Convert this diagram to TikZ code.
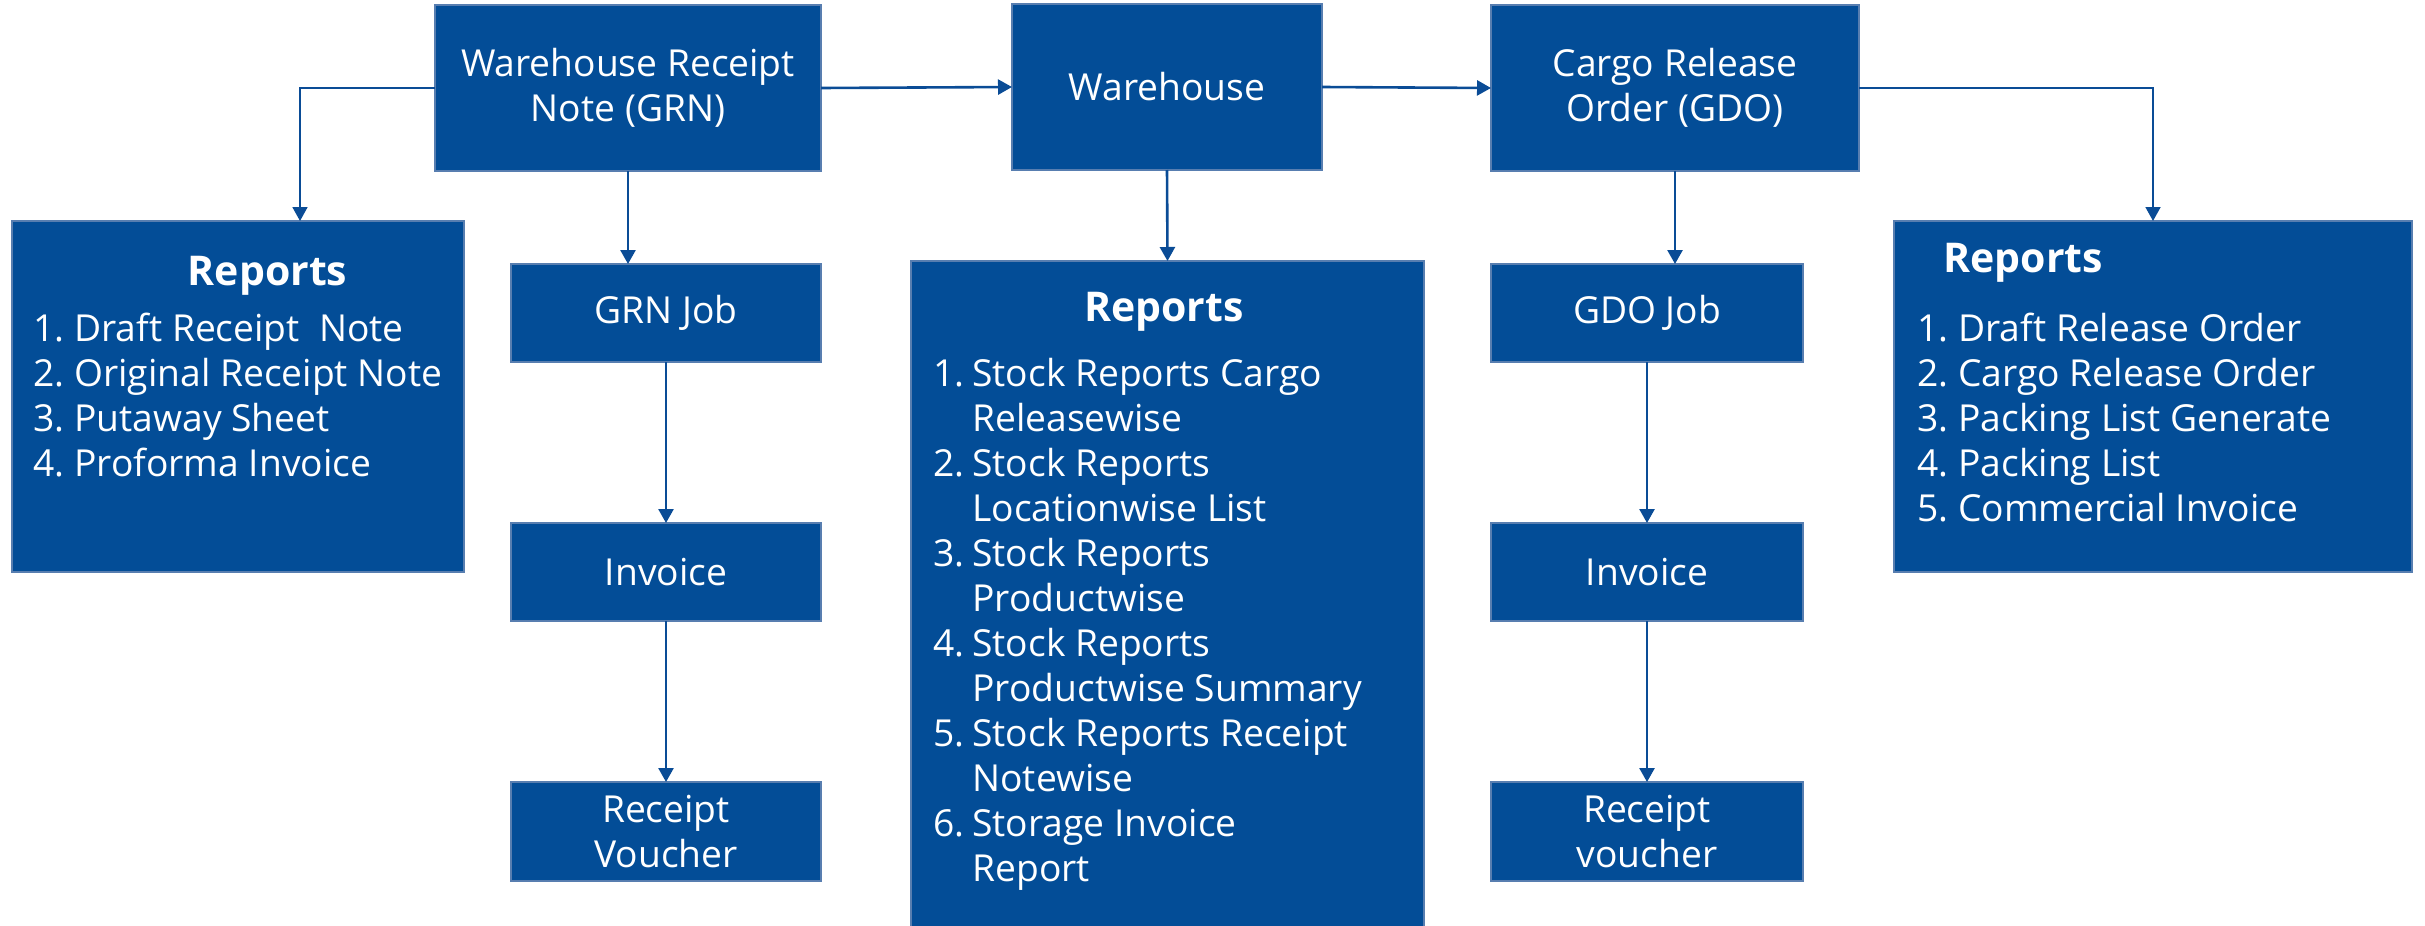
\documentclass[tikz,border=0pt]{standalone}
\usepackage{fontspec}
\setmainfont{Open Sans}
\usetikzlibrary{arrows.meta}
\definecolor{boxblue}{RGB}{3,77,151}
\definecolor{edgeblue}{RGB}{88,126,176}
\definecolor{lineblue}{RGB}{10,76,150}
\begin{document}
\begin{tikzpicture}[x=0.5pt,y=-0.5pt,
  box/.style={rectangle, fill=boxblue, draw=edgeblue, line width=0.8pt, inner sep=0pt, outer sep=0pt,
    text=white, align=center, font=\fontsize{18.6}{22.5}\selectfont},
  arr/.style={draw=lineblue, line width=1.3pt, -{Triangle[width=7.5pt,length=7pt]}},
  thinarr/.style={draw=lineblue, line width=0.9pt, -{Triangle[width=7.5pt,length=7pt]}},
  txt/.style={anchor=base west, inner sep=0pt, text=white, font=\fontsize{18.6}{22.5}\selectfont},
  head/.style={inner sep=0pt, text=white, font=\fontsize{20.5}{24}\selectfont\bfseries}]
\useasboundingbox (0,0) rectangle (2425,926);

% top row
\node[box, minimum width=193pt, minimum height=83pt] (grn) at (628,88) {Warehouse Receipt\\Note (GRN)};
\node[box, minimum width=155pt, minimum height=83pt] (wh) at (1167,87) {Warehouse};
\node[box, minimum width=184pt, minimum height=83pt] (cargo) at (1675,88) {Cargo Release\\Order (GDO)};

% report boxes
\node[box, minimum width=226pt, minimum height=175.5pt] (repL) at (238,396.5) {};
\node[box, minimum width=256.5pt, minimum height=342.5pt] (repM) at (1167.5,603.5) {};
\node[box, minimum width=259pt, minimum height=175.5pt] (repR) at (2153,396.5) {};

% left column
\node[box, minimum width=155pt, minimum height=49pt] (grnjob) at (666,313) {GRN Job};
\node[box, minimum width=155pt, minimum height=49pt] (invL) at (666,572) {Invoice};
\node[box, minimum width=155pt, minimum height=49.5pt] (rvL) at (666,831.5) {Receipt\\Voucher};

% right column
\node[box, minimum width=156pt, minimum height=49pt] (gdojob) at (1647,313) {GDO Job};
\node[box, minimum width=156pt, minimum height=49pt] (invR) at (1647,572) {Invoice};
\node[box, minimum width=156pt, minimum height=49.5pt] (rvR) at (1647,831.5) {Receipt\\voucher};

% report texts
\node[head, anchor=base] (hL) at (267.5,285) {Reports};
\foreach \n/\t [count=\i] in {1./Draft Receipt~~Note, 2./Original Receipt Note, 3./Putaway Sheet, 4./Proforma Invoice}
  {\node[txt] (lrn\i) at (33,{341.7+45*(\i-1)}) {\n};
   \node[txt] (lr\i) at (74,{341.7+45*(\i-1)}) {\t};}

\node[head, anchor=base] (hM) at (1164,321) {Reports};
\foreach \n/\t [count=\i] in {1./Stock Reports Cargo, /Releasewise, 2./Stock Reports, /Locationwise List,
  3./Stock Reports, /Productwise, 4./Stock Reports, /Productwise Summary,
  5./Stock Reports Receipt, /Notewise, 6./Storage Invoice, /Report}
  {\node[txt] (mrn\i) at (933,{386+45*(\i-1)}) {\n};
   \node[txt] (mr\i) at (972,{386+45*(\i-1)}) {\t};}

\node[head, anchor=base west] (hR) at (1943,272) {Reports};
\foreach \n/\t [count=\i] in {1./Draft Release Order, 2./Cargo Release Order, 3./Packing List Generate, 4./Packing List, 5./Commercial Invoice}
  {\node[txt] (rrn\i) at (1917,{341.7+45*(\i-1)}) {\n};
   \node[txt] (rr\i) at (1958,{341.7+45*(\i-1)}) {\t};}

% connectors
\coordinate (cl) at (300,88);
\draw[thinarr] (grn.west) -| (cl |- repL.north);
\draw[arr] (grn.east) -- (wh.west);
\draw[arr] (wh.east) -- (cargo.west);
\draw[thinarr] (cargo.east) -| (repR.north);
\draw[arr] (grn.south) -- (grn.south |- grnjob.north);
\draw[arr] (grnjob.south) -- (invL.north);
\draw[arr] (invL.south) -- (rvL.north);
\draw[arr] (wh.south) -- (repM.north);
\draw[arr] (cargo.south) -- (cargo.south |- gdojob.north);
\draw[arr] (gdojob.south) -- (invR.north);
\draw[arr] (invR.south) -- (rvR.north);
\end{tikzpicture}
\end{document}
